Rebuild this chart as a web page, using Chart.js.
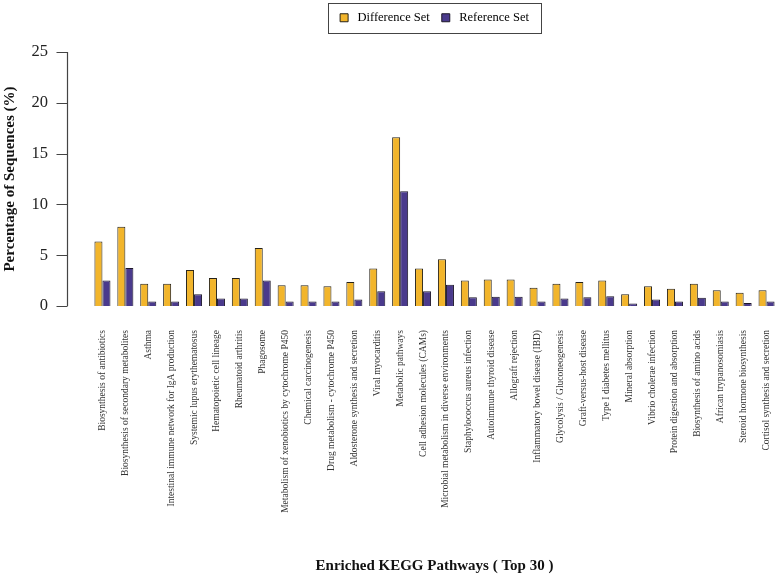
<!DOCTYPE html>
<html>
<head>
<title>Enriched KEGG Pathways</title>
<script src="https://cdn.jsdelivr.net/npm/chart.js"></script>
<style>
    body {
        margin: 0;
        background: #fff;
    }
    #chartContainer {
        width: 778px;
        height: 577px;
    }
</style>
</head>
<body>
<div id="chartContainer">
    <canvas id="myChart"></canvas>
</div>

<script>
var pathways = [
    'Biosynthesis of antibiotics',
    'Biosynthesis of secondary metabolites',
    'Asthma',
    'Intestinal immune network for IgA production',
    'Systemic lupus erythematosus',
    'Hematopoietic cell lineage',
    'Rheumatoid arthritis',
    'Phagosome',
    'Metabolism of xenobiotics by cytochrome P450',
    'Chemical carcinogenesis',
    'Drug metabolism - cytochrome P450',
    'Aldosterone synthesis and secretion',
    'Viral myocarditis',
    'Metabolic pathways',
    'Cell adhesion molecules (CAMs)',
    'Microbial metabolism in diverse environments',
    'Staphylococcus aureus infection',
    'Autoimmune thyroid disease',
    'Allograft rejection',
    'Inflammatory bowel disease (IBD)',
    'Glycolysis / Gluconeogenesis',
    'Graft-versus-host disease',
    'Type I diabetes mellitus',
    'Mineral absorption',
    'Vibrio cholerae infection',
    'Protein digestion and absorption',
    'Biosynthesis of amino acids',
    'African trypanosomiasis',
    'Steroid hormone biosynthesis',
    'Cortisol synthesis and secretion'
];

var differenceSet = [6.35, 7.8, 2.2, 2.2, 3.55, 2.75, 2.75, 5.7, 2.05, 2.05,
                     1.95, 2.35, 3.7, 16.6, 3.7, 4.6, 2.5, 2.6, 2.6, 1.8,
                     2.2, 2.35, 2.5, 1.15, 1.95, 1.7, 2.2, 1.55, 1.3, 1.55];

var referenceSet = [2.5, 3.75, 0.45, 0.45, 1.15, 0.75, 0.75, 2.5, 0.45, 0.45,
                    0.45, 0.65, 1.45, 11.3, 1.45, 2.1, 0.85, 0.9, 0.9, 0.45,
                    0.75, 0.85, 0.95, 0.25, 0.65, 0.45, 0.8, 0.45, 0.3, 0.45];

var yTicks = [0, 5, 10, 15, 20, 25];

var serif = "'Liberation Serif', 'DejaVu Serif', serif";

// R style y axis: line only spans the ticks, sits left of the bars
var rAxis = {
    id: 'rAxis',
    afterDraw: function(chart) {
        var ctx = chart.ctx;
        var y = chart.scales.y;
        var x0 = Math.round(chart.chartArea.left - 24) + 0.5;
        ctx.save();
        ctx.strokeStyle = '#444';
        ctx.lineWidth = 1.2;
        ctx.beginPath();
        ctx.moveTo(x0, y.getPixelForValue(yTicks[0]));
        ctx.lineTo(x0, y.getPixelForValue(yTicks[yTicks.length - 1]));
        yTicks.forEach(function(v) {
            var py = Math.round(y.getPixelForValue(v)) + 0.5;
            ctx.moveTo(x0, py);
            ctx.lineTo(x0 - 11, py);
        });
        ctx.stroke();
        ctx.restore();
    }
};

// legend sits near the top edge with a frame round it
var legendFrame = {
    id: 'legendFrame',
    afterLayout: function(chart) {
        var lg = chart.legend;
        lg.top -= 18;
        lg.bottom -= 18;
    },
    afterDraw: function(chart) {
        var boxes = chart.legend.legendHitBoxes;
        if (!boxes || !boxes.length) return;
        var l = Math.min.apply(null, boxes.map(function(b) { return b.left; }));
        var r = Math.max.apply(null, boxes.map(function(b) { return b.left + b.width; }));
        var t = Math.min.apply(null, boxes.map(function(b) { return b.top; }));
        var b = Math.max.apply(null, boxes.map(function(b) { return b.top + b.height; }));
        var ctx = chart.ctx;
        ctx.save();
        ctx.strokeStyle = '#444';
        ctx.lineWidth = 1;
        ctx.strokeRect(Math.round(l - 12) + 0.5, Math.round(t - 9) + 0.5,
                       Math.round(r - l + 24), Math.round(b - t + 17));
        ctx.restore();
    }
};

var ctx = document.getElementById('myChart').getContext('2d');

var chart = new Chart(ctx, {
    type: 'bar',
    data: {
        labels: pathways,
        datasets: [{
            label: 'Difference Set',
            data: differenceSet,
            backgroundColor: '#F2B52B',
            borderColor: '#262218',
            borderWidth: 1,
            borderSkipped: 'bottom'
        }, {
            label: 'Reference Set',
            data: referenceSet,
            backgroundColor: '#4A3A8C',
            borderColor: '#1c1729',
            borderWidth: 1,
            borderSkipped: 'bottom'
        }]
    },
    options: {
        responsive: true,
        maintainAspectRatio: false,
        animation: false,
        layout: {
            padding: { top: 0, right: 0, left: 0, bottom: 0 }
        },
        datasets: {
            bar: {
                categoryPercentage: 0.7,
                barPercentage: 1.0
            }
        },
        plugins: {
            tooltip: { enabled: false },
            legend: {
                position: 'top',
                fullSize: false,
                labels: {
                    boxWidth: 8,
                    boxHeight: 8,
                    padding: 12,
                    color: '#222',
                    font: { family: serif, size: 12.5 },
                    generateLabels: function(chart) {
                        return chart.data.datasets.map(function(ds, i) {
                            return {
                                text: ' ' + ds.label,
                                fillStyle: ds.backgroundColor,
                                strokeStyle: ds.borderColor,
                                lineWidth: 1,
                                datasetIndex: i
                            };
                        });
                    }
                }
            }
        },
        scales: {
            x: {
                grid: { display: false, drawTicks: false },
                border: { display: false },
                ticks: {
                    autoSkip: false,
                    minRotation: 90,
                    maxRotation: 90,
                    padding: 24,
                    color: '#333',
                    font: { family: serif, size: 9.5 }
                },
                title: {
                    display: true,
                    text: 'Enriched KEGG Pathways ( Top 30 )',
                    color: '#111',
                    font: { family: serif, size: 15, weight: 'bold' },
                    padding: { top: 4, bottom: 2 }
                },
                afterFit: function(scale) {
                    scale.height = 271;
                    scale.paddingLeft = 0;
                    scale.paddingRight = 0;
                }
            },
            y: {
                min: 0,
                max: 25,
                grid: { display: false, drawTicks: false },
                border: { display: false },
                ticks: {
                    padding: 43,
                    color: '#222',
                    font: { family: serif, size: 16.5 }
                },
                afterBuildTicks: function(scale) {
                    scale.ticks = yTicks.map(function(v) { return { value: v }; });
                },
                title: {
                    display: true,
                    text: 'Percentage of Sequences (%)',
                    color: '#111',
                    font: { family: serif, size: 15, weight: 'bold' },
                    padding: { top: 1, bottom: 0 }
                },
                afterFit: function(scale) {
                    scale.width = 91;
                    scale.paddingTop = 52;
                    scale.paddingBottom = 0;
                }
            }
        }
    },
    plugins: [rAxis, legendFrame]
});
</script>
</body>
</html>
